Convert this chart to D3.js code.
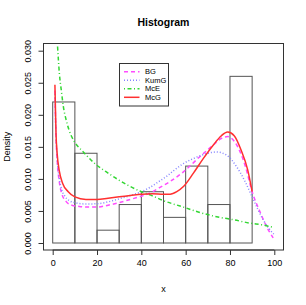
<!DOCTYPE html>
<html>
<head>
<meta charset="UTF-8">
<script src="https://d3js.org/d3.v7.min.js"></script>
<style>
  body { margin: 0; background: #fff; }
  text { font-family: "Liberation Sans", Arial, sans-serif; fill: #000; }
</style>
</head>
<body>
<svg width="306" height="305"></svg>
<script>
// histogram (density per bin of width 10)
const binStarts = [0, 10, 20, 30, 40, 50, 60, 70, 80];
const binDensity = [0.022, 0.014, 0.002, 0.006, 0.008, 0.004, 0.012, 0.006, 0.026];

// fitted densities
const bgX = [1, 1.5, 2, 3, 4, 6, 8.6, 12, 16, 20, 25, 30, 35, 40, 44, 48, 53, 59, 66.5, 72.5, 76, 79, 83, 87, 90, 93.5, 96.6, 99.5];
const bgY = [0.0238, 0.0165, 0.0130, 0.0095, 0.0078, 0.0065, 0.0059, 0.0057, 0.0056, 0.0056, 0.0059, 0.0063, 0.0068, 0.0073, 0.0078, 0.0086, 0.0096, 0.0111, 0.0135, 0.0153, 0.0163, 0.0166, 0.0153, 0.0119, 0.0080, 0.0049, 0.0025, 0.0008];

const kumX = [1, 1.5, 2, 3, 4, 5.5, 7.5, 10, 14, 18, 22, 26, 30, 35, 40, 44, 48, 51.4, 55, 59, 63, 66.5, 70, 74, 78.5, 83, 86.8, 90, 92.5, 95, 97.5, 100];
const kumY = [0.0232, 0.0165, 0.0132, 0.0100, 0.0084, 0.0073, 0.0066, 0.0063, 0.0061, 0.0061, 0.0062, 0.0065, 0.0069, 0.0074, 0.0080, 0.0087, 0.0096, 0.0104, 0.0114, 0.0124, 0.0131, 0.0136, 0.0140, 0.0142, 0.0137, 0.0119, 0.0096, 0.0072, 0.0053, 0.0036, 0.0023, 0.0013];

const mceX = [2.1, 3, 4, 4.8, 6, 7.4, 10, 13, 19, 25, 34, 40, 44, 50, 59, 66, 74, 82, 89, 95, 99.5];
const mceY = [0.0312, 0.0265, 0.0235, 0.0213, 0.0193, 0.0176, 0.0157, 0.0145, 0.0124, 0.0109, 0.0090, 0.0080, 0.0075, 0.0066, 0.0056, 0.0048, 0.0041, 0.0036, 0.0031, 0.0028, 0.00245];

const mcgX = [1, 1.5, 2, 3, 4.5, 7, 10, 15, 20, 25, 30, 35, 40, 45, 50, 53, 56, 59, 63.5, 68, 72.5, 76, 79, 82, 85, 88, 90];
const mcgY = [0.0247, 0.0170, 0.0140, 0.0112, 0.0093, 0.0080, 0.0072, 0.0068, 0.0068, 0.0070, 0.0072, 0.0074, 0.0076, 0.0077, 0.0076, 0.0076, 0.0080, 0.0088, 0.0109, 0.0132, 0.0153, 0.0167, 0.0173, 0.0167, 0.0145, 0.0114, 0.0080];

const xTicks = [0, 20, 40, 60, 80, 100];
const yTicks = [0, 0.005, 0.010, 0.015, 0.020, 0.025, 0.030];

const series = [
  { name: "BG",   xs: bgX,  ys: bgY,  color: "#ff4cff", dash: "4,3" },
  { name: "KumG", xs: kumX, ys: kumY, color: "#8585ff", dash: "1,2" },
  { name: "McE",  xs: mceX, ys: mceY, color: "#33d633", dash: "1,2.5,4,2.5" },
  { name: "McG",  xs: mcgX, ys: mcgY, color: "#ff3030", dash: null }
];

const svg = d3.select("svg");
const box = { left: 43.5, right: 283.5, top: 43.5, bottom: 250 };

const x = d3.scaleLinear().domain([0, 100]).range([52.7, 274.3]);
const y = d3.scaleLinear().domain([0, 0.03]).range([243, 50.7]);

svg.append("defs").append("clipPath").attr("id", "clip")
  .append("rect")
  .attr("x", box.left).attr("y", box.top)
  .attr("width", box.right - box.left).attr("height", box.bottom - box.top);

// histogram bars
svg.append("g")
  .selectAll("rect")
  .data(binStarts)
  .join("rect")
  .attr("x", d => x(d))
  .attr("y", (d, i) => y(binDensity[i]))
  .attr("width", d => x(d + 10) - x(d))
  .attr("height", (d, i) => y(0) - y(binDensity[i]))
  .attr("fill", "none")
  .attr("stroke", "#555")
  .attr("stroke-width", 1);

// curves
const line = d3.line().curve(d3.curveMonotoneX);
svg.append("g")
  .attr("clip-path", "url(#clip)")
  .selectAll("path")
  .data(series)
  .join("path")
  .attr("d", s => line(s.xs.map((v, i) => [x(v), y(s.ys[i])])))
  .attr("fill", "none")
  .attr("stroke", s => s.color)
  .attr("stroke-width", 1.5)
  .attr("stroke-dasharray", s => s.dash);

// plot box
svg.append("rect")
  .attr("x", box.left).attr("y", box.top)
  .attr("width", box.right - box.left).attr("height", box.bottom - box.top)
  .attr("fill", "none").attr("stroke", "#333").attr("stroke-width", 1);

// x axis
const xAxis = svg.append("g").attr("transform", `translate(0,${box.bottom})`)
  .call(d3.axisBottom(x).tickValues(xTicks).tickSize(5).tickPadding(5));
xAxis.selectAll("text").attr("font-size", 9).attr("font-family", "Liberation Sans, Arial, sans-serif");

// y axis, labels rotated like R's default
const yAxis = svg.append("g").attr("transform", `translate(${box.left},0)`)
  .call(d3.axisLeft(y).tickValues(yTicks).tickFormat(d3.format(".3f")).tickSize(5));
yAxis.selectAll("text")
  .attr("font-size", 9)
  .attr("font-family", "Liberation Sans, Arial, sans-serif")
  .attr("x", -15).attr("dy", "0.32em")
  .attr("text-anchor", "middle")
  .attr("transform", "rotate(-90,-15,0)");
[xAxis, yAxis].forEach(a => {
  a.select(".domain").attr("stroke", "#333");
  a.selectAll("line").attr("stroke", "#333");
});
xAxis.select(".domain").attr("d", `M${x(0)},0H${x(100)}`);
yAxis.select(".domain").attr("d", `M0,${y(0)}V${y(0.03)}`);
xAxis.selectAll(".tick text").attr("dy", "0.71em");

// titles
svg.append("text").attr("x", 163.5).attr("y", 25.5)
  .attr("text-anchor", "middle").attr("font-size", 10.5).attr("font-weight", "bold")
  .text("Histogram");
svg.append("text").attr("x", 163.5).attr("y", 292)
  .attr("text-anchor", "middle").attr("font-size", 9).text("x");
svg.append("text").attr("transform", "translate(10,146.7) rotate(-90)")
  .attr("text-anchor", "middle").attr("font-size", 9).text("Density");

// legend
const lg = svg.append("g");
lg.append("rect").attr("x", 119.5).attr("y", 63.5).attr("width", 49).attr("height", 42.5)
  .attr("fill", "#fff").attr("stroke", "#333").attr("stroke-width", 1);
const item = lg.selectAll("g.item").data(series).join("g").attr("class", "item")
  .attr("transform", (d, i) => `translate(0,${71.8 + i * 8.5})`);
item.append("line").attr("x1", 124).attr("x2", 139.5)
  .attr("stroke", d => d.color).attr("stroke-width", 1.5)
  .attr("stroke-dasharray", d => d.dash);
item.append("text").attr("x", 145).attr("dy", "0.33em").attr("font-size", 7.5)
  .text(d => d.name);
</script>
</body>
</html>
